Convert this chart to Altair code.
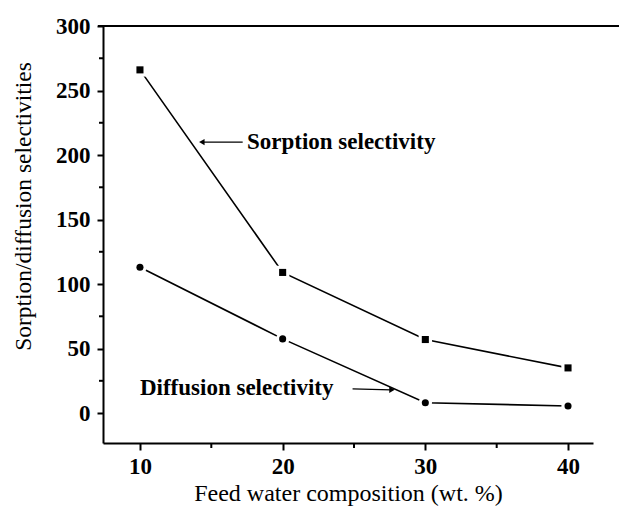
import altair as alt
import pandas as pd

# Data
composition = [10, 20, 30, 40]
sorption = [266, 109, 57, 35]
diffusion = [113, 57.5, 8, 5.5]

y_major = [0, 50, 100, 150, 200, 250, 300]
y_minor = [25, 75, 125, 175, 225, 275]
x_major = [10, 20, 30, 40]
x_minor = [15, 25, 35]

# annotation positions (data units)
ann_text = ["Sorption selectivity", "Diffusion selectivity"]
ann_tx = [17.5, 10.0]
ann_ty = [210, 19.5]
arrow_x = [17.2, 24.9]
arrow_x2 = [14.4, 27.6]
arrow_y = [210, 18.8]
arrow_y2 = [210, 18.0]
arrow_angle = [270, 90]

FONT = "Liberation Serif"

df = pd.DataFrame({
    "x": composition * 2,
    "y": sorption + diffusion,
    "series": ["Sorption"] * 4 + ["Diffusion"] * 4,
})
ann = pd.DataFrame({"x": ann_tx, "y": ann_ty, "t": ann_text})
arr = pd.DataFrame({"x": arrow_x, "x2": arrow_x2, "y": arrow_y, "y2": arrow_y2, "a": arrow_angle})
ymin_df = pd.DataFrame({"v": y_minor})
xmin_df = pd.DataFrame({"v": x_minor})

xs = alt.Scale(domain=[7.41, 41.75], nice=False, zero=False)
ys = alt.Scale(domain=[-23.2, 300], nice=False, zero=False)

x_axis = alt.Axis(values=x_major, title="Feed water composition (wt. %)", format="d",
                  labelFont=FONT, labelFontSize=23, labelFontWeight="bold", labelColor="black",
                  titleFont=FONT, titleFontSize=24, titleFontWeight="normal", titleColor="black",
                  titlePadding=3, labelPadding=5,
                  domainColor="black", domainWidth=2, tickColor="black", tickWidth=2, tickSize=7,
                  grid=False)
y_axis = alt.Axis(values=y_major, title="Sorption/diffusion selectivities", format="d",
                  labelFont=FONT, labelFontSize=23, labelFontWeight="bold", labelColor="black",
                  titleFont=FONT, titleFontSize=23.5, titleFontWeight="normal", titleColor="black",
                  titlePadding=20, labelPadding=7, titleY=180,
                  domainColor="black", domainWidth=2, tickColor="black", tickWidth=2, tickSize=6,
                  grid=False, orient="left")

base = alt.Chart(df)

lines = base.mark_line(color="black", strokeWidth=1.6).encode(
    x=alt.X("x:Q", scale=xs, axis=x_axis),
    y=alt.Y("y:Q", scale=ys, axis=y_axis),
    detail="series:N",
)

shape_scale = alt.Scale(domain=["Sorption", "Diffusion"], range=["square", "circle"])

halo = base.mark_point(filled=True, color="white", opacity=1, size=180).encode(
    x=alt.X("x:Q", scale=xs),
    y=alt.Y("y:Q", scale=ys),
    shape=alt.Shape("series:N", scale=shape_scale, legend=None),
)
pts = base.mark_point(filled=True, color="black", opacity=1, size=50).encode(
    x=alt.X("x:Q", scale=xs),
    y=alt.Y("y:Q", scale=ys),
    shape=alt.Shape("series:N", scale=shape_scale, legend=None),
)

y_minor_ticks = alt.Chart(ymin_df).mark_rule(color="black", strokeWidth=2).encode(
    y=alt.Y("v:Q", scale=ys), x=alt.value(-4), x2=alt.value(0))
x_minor_ticks = alt.Chart(xmin_df).mark_rule(color="black", strokeWidth=2).encode(
    x=alt.X("v:Q", scale=xs), y=alt.value(417), y2=alt.value(422))

texts = alt.Chart(ann).mark_text(font=FONT, fontSize=23, fontWeight="bold", align="left",
                                 baseline="middle", color="black").encode(
    x=alt.X("x:Q", scale=xs), y=alt.Y("y:Q", scale=ys), text="t:N")

arrow_lines = alt.Chart(arr).mark_rule(color="black", strokeWidth=1.3).encode(
    x=alt.X("x:Q", scale=xs), x2="x2:Q", y=alt.Y("y:Q", scale=ys), y2="y2:Q")
arrow_heads = alt.Chart(arr).mark_point(shape="triangle", filled=True, color="black", opacity=1,
                                        size=40).encode(
    x=alt.X("x2:Q", scale=xs), y=alt.Y("y2:Q", scale=ys),
    angle=alt.Angle("a:Q", scale=None))

top_rule = alt.Chart(ymin_df).mark_rule(color="black", strokeWidth=2).encode(
    x=alt.value(-5), x2=alt.value(530), y=alt.value(0))

chart = alt.layer(lines, halo, pts, texts, arrow_lines, arrow_heads, top_rule,
                  y_minor_ticks, x_minor_ticks).properties(
    width=490, height=417,
    padding={"left": 103, "top": 26, "right": 26, "bottom": 66},
    autosize=alt.AutoSizeParams(type="none"),
    background="white",
).configure_view(stroke=None)

chart.save("out.html", embed_options={"renderer": "svg", "actions": False})
